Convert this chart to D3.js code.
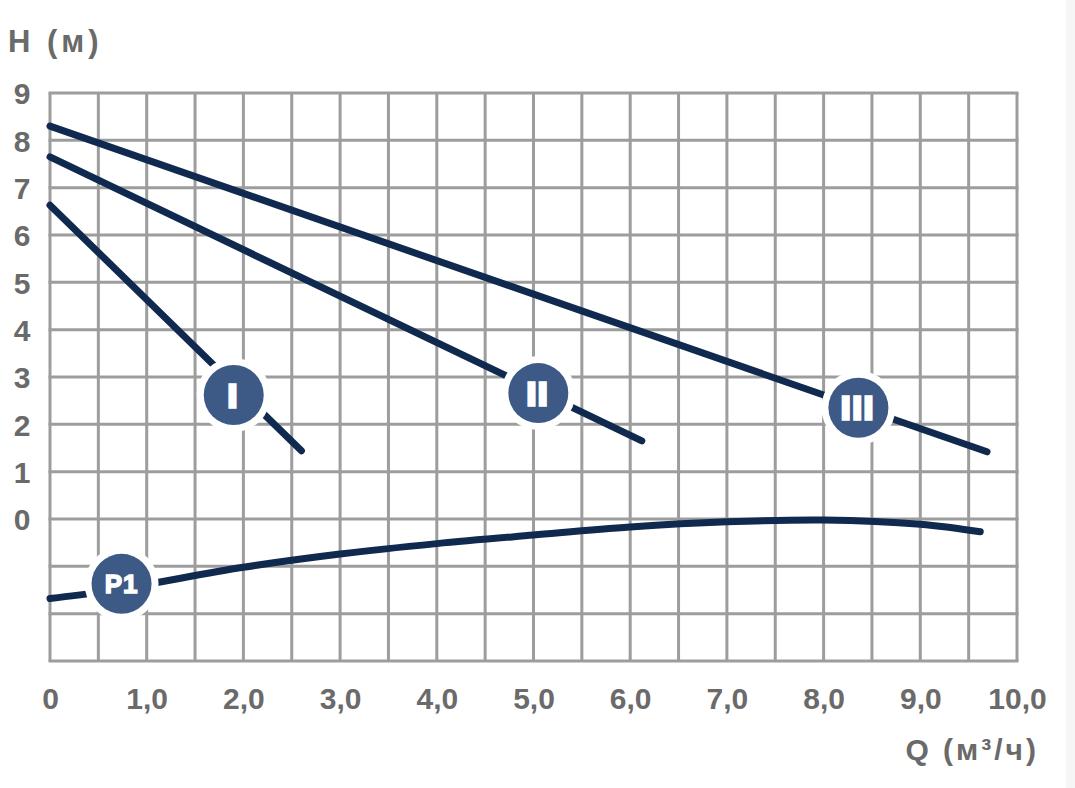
<!DOCTYPE html>
<html>
<head>
<meta charset="utf-8">
<script src="https://cdn.jsdelivr.net/npm/d3@7"></script>
<style>
  html, body { margin: 0; padding: 0; background: #ffffff; }
  svg { display: block; }
  text { font-family: "Liberation Sans", Arial, sans-serif; font-weight: bold; }
</style>
</head>
<body>
<script>
// ---- data ----
const xTickValues = [0, 1, 2, 3, 4, 5, 6, 7, 8, 9, 10];
const xTickLabels = ["0", "1,0", "2,0", "3,0", "4,0", "5,0", "6,0", "7,0", "8,0", "9,0", "10,0"];
const yTickValues = [0, 1, 2, 3, 4, 5, 6, 7, 8, 9];
const yTickLabels = ["0", "1", "2", "3", "4", "5", "6", "7", "8", "9"];

const curveI   = [[0, 6.63], [2.6, 1.44]];
const curveII  = [[0, 7.65], [6.12, 1.65]];
const curveIII = [[0, 8.3], [9.69, 1.42]];
const curveP1  = [[0, -1.68], [0.5, -1.55], [1, -1.38], [2, -1.02], [3, -0.74], [4, -0.52],
                  [5, -0.34], [6, -0.17], [7, -0.06], [8, -0.02], [9, -0.11], [9.62, -0.27]];

const badgeLabels = ["I", "II", "III", "P1"];
const badgeQ      = [1.9, 5.05, 8.36, 0.74];
const badgeH      = [2.62, 2.66, 2.35, -1.37];

const xTitle = "Q (м³/ч)";
const yTitle = "H (м)";

// ---- layout ----
const W = 1075, H = 788;
const gridColor = "#9d9d9d";
const lineColor = "#10294f";
const badgeColor = "#3d5a87";
const labelColor = "#6a6a6a";

const x = d3.scaleLinear().domain([0, 10]).range([50, 1017]);
const y = d3.scaleLinear().domain([-3, 9]).range([661, 93]);

const svg = d3.select("body").append("svg").attr("width", W).attr("height", H);
svg.append("rect").attr("width", W).attr("height", H).attr("fill", "#ffffff");
svg.append("rect").attr("x", 1066).attr("width", W - 1066).attr("height", H).attr("fill", "#f6f6f6");

// grid
const g = svg.append("g");
g.selectAll("line.v").data(d3.range(0, 10.001, 0.5)).join("line")
  .attr("x1", d => x(d)).attr("x2", d => x(d))
  .attr("y1", y(9)).attr("y2", y(-3))
  .attr("stroke", gridColor).attr("stroke-width", 3);
g.selectAll("line.h").data(d3.range(-3, 9.001, 1)).join("line")
  .attr("x1", x(0) - 1.5).attr("x2", x(10) + 1.5)
  .attr("y1", d => y(d)).attr("y2", d => y(d))
  .attr("stroke", gridColor).attr("stroke-width", 3);

// axes labels (ticks)
const xAxis = d3.axisBottom(x).tickValues(xTickValues)
  .tickFormat((d, i) => xTickLabels[i]).tickSize(0).tickPadding(0);
const xa = svg.append("g").attr("transform", "translate(0,698)").call(xAxis);
xa.select(".domain").remove();
xa.selectAll("text").attr("fill", labelColor).attr("font-size", 30)
  .attr("dy", "0.36em").attr("y", 0)
  .attr("font-family", "'Liberation Sans', Arial, sans-serif").attr("font-weight", "bold");

const yAxis = d3.axisLeft(y).tickValues(yTickValues)
  .tickFormat((d, i) => yTickLabels[i]).tickSize(0).tickPadding(0);
const ya = svg.append("g").attr("transform", "translate(22,0)").call(yAxis);
ya.select(".domain").remove();
ya.selectAll("text").attr("fill", labelColor).attr("font-size", 30)
  .attr("text-anchor", "middle").attr("x", 0).attr("dy", "0.36em")
  .attr("font-family", "'Liberation Sans', Arial, sans-serif").attr("font-weight", "bold");

// titles
svg.append("text").attr("x", 8).attr("y", 52).attr("fill", labelColor)
  .attr("font-size", 31).attr("letter-spacing", 4).text(yTitle);
svg.append("text").attr("x", 1039).attr("y", 760).attr("text-anchor", "end")
  .attr("fill", labelColor).attr("font-size", 30).attr("letter-spacing", 3).text(xTitle);

// curves
const line = d3.line().x(d => x(d[0])).y(d => y(d[1]));
const smooth = d3.line().x(d => x(d[0])).y(d => y(d[1])).curve(d3.curveCatmullRom.alpha(0.5));
[curveI, curveII, curveIII].forEach(c => {
  svg.append("path").attr("d", line(c)).attr("fill", "none")
    .attr("stroke", lineColor).attr("stroke-width", 7).attr("stroke-linecap", "round");
});
svg.append("path").attr("d", smooth(curveP1)).attr("fill", "none")
  .attr("stroke", lineColor).attr("stroke-width", 7).attr("stroke-linecap", "round");

// badges
const badges = badgeLabels.map((l, i) => ({ label: l, q: badgeQ[i], h: badgeH[i] }));
const bg = svg.selectAll("g.badge").data(badges).join("g")
  .attr("transform", d => `translate(${x(d.q)},${y(d.h)})`);
bg.append("circle").attr("r", 37).attr("fill", "#ffffff");
bg.append("circle").attr("r", 30).attr("fill", badgeColor);
bg.append("text").attr("text-anchor", "middle").attr("dy", "0.36em")
  .attr("fill", "#ffffff").attr("stroke", "#ffffff")
  .attr("stroke-width", d => d.label === "P1" ? 1.5 : 3.5)
  .attr("font-size", d => d.label === "P1" ? 26 : 32)
  .attr("letter-spacing", d => d.label === "P1" ? 1 : 2.5)
  .text(d => d.label);
</script>
</body>
</html>
